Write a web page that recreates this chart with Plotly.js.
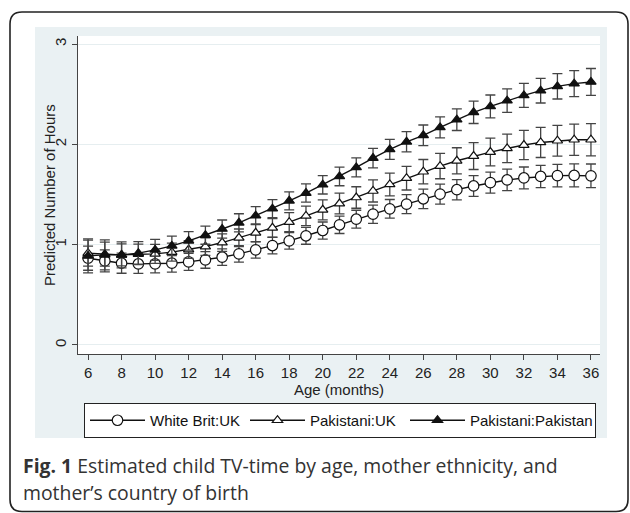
<!DOCTYPE html>
<html><head><meta charset="utf-8">
<script src="https://cdn.plot.ly/plotly-3.0.1.min.js"></script>
<style>html,body{margin:0;padding:0;background:#fff}#chart{width:630px;height:513px}</style>
</head><body><div id="chart"></div>
<script>
const ages = [6,7,8,9,10,11,12,13,14,15,16,17,18,19,20,21,22,23,24,25,26,27,28,29,30,31,32,33,34,35,36];
const seriesNames = ['White Brit:UK', 'Pakistani:UK', 'Pakistani:Pakistan'];
const whiteBritUK = [0.865,0.838,0.815,0.808,0.808,0.815,0.828,0.848,0.875,0.908,0.948,0.991,1.038,1.088,1.141,1.198,1.254,1.304,1.357,1.404,1.457,1.504,1.548,1.585,1.618,1.645,1.665,1.680,1.688,1.690,1.686];
const whiteBritUKErr = [0.12,0.11,0.10,0.095,0.09,0.088,0.085,0.083,0.082,0.082,0.082,0.082,0.083,0.084,0.085,0.087,0.089,0.091,0.093,0.095,0.097,0.099,0.101,0.103,0.105,0.107,0.109,0.111,0.113,0.115,0.118];
const pakistaniUK = [0.915,0.905,0.898,0.905,0.908,0.925,0.951,0.981,1.021,1.068,1.118,1.168,1.224,1.287,1.347,1.410,1.470,1.535,1.600,1.663,1.727,1.783,1.836,1.883,1.923,1.959,1.993,2.019,2.036,2.046,2.046];
const pakistaniUKErr = [0.13,0.12,0.11,0.10,0.095,0.09,0.088,0.087,0.087,0.088,0.09,0.092,0.095,0.098,0.10,0.103,0.107,0.11,0.114,0.118,0.122,0.126,0.13,0.134,0.138,0.142,0.146,0.15,0.153,0.156,0.16];
const pakistaniPakistan = [0.888,0.898,0.898,0.915,0.948,0.988,1.038,1.094,1.156,1.218,1.289,1.359,1.437,1.514,1.597,1.680,1.770,1.863,1.950,2.025,2.090,2.169,2.246,2.319,2.378,2.435,2.488,2.535,2.578,2.605,2.622];
const pakistaniPakistanErr = [0.17,0.15,0.13,0.115,0.105,0.097,0.092,0.09,0.09,0.09,0.09,0.09,0.09,0.091,0.092,0.093,0.095,0.097,0.099,0.101,0.103,0.105,0.108,0.111,0.114,0.117,0.12,0.123,0.126,0.13,0.134];
const xTicks = [6,8,10,12,14,16,18,20,22,24,26,28,30,32,34,36];
const yTicks = [0,1,2,3];
const xTitle = 'Age (months)';
const yTitle = 'Predicted Number of Hours';
const captionBold = 'Fig. 1';
const captionLine1 = ' Estimated child TV-time by age, mother ethnicity, and';
const captionLine2 = 'mother\u2019s country of birth';

const W = 630, H = 513, L = 78, R = 30, T = 36, B = 159;
const pw = W - L - R, ph = H - T - B;
const px = x => (x - L) / pw;
const py = y => (H - B - y) / ph;

const FONT = 'Liberation Sans, Arial, sans-serif';
const ERRC = '#444';

function mk(name, y, err, symbol, fill, size, lw) {
  const t = {
    type: 'scatter', mode: 'lines+markers', name: name, x: ages, y: y,
    line: {color: '#111', width: 1.4},
    marker: {symbol: symbol, size: size, color: fill, line: {color: '#111', width: 1.2}},
    error_y: {type: 'data', array: err, visible: true, color: ERRC, thickness: 1.3, width: 5}
  };
  if (lw) t.legendwidth = lw;
  return t;
}

const data = [
  mk(seriesNames[0], whiteBritUK, whiteBritUKErr, 'circle', '#fff', 10.5),
  mk(seriesNames[1], pakistaniUK, pakistaniUKErr, 'triangle-up', '#fff', 9),
  mk(seriesNames[2], pakistaniPakistan, pakistaniPakistanErr, 'triangle-up', '#111', 9, 120)
];

// rounded card outline
const cx0 = px(10), cx1 = px(628), cy0 = py(511.5), cy1 = py(12);
const rx = 12 / pw, ry = 12 / ph;
const cardPath = `M${cx0},${cy1 - ry} Q${cx0},${cy1} ${cx0 + rx},${cy1} L${cx1 - rx},${cy1} Q${cx1},${cy1} ${cx1},${cy1 - ry} L${cx1},${cy0 + ry} Q${cx1},${cy0} ${cx1 - rx},${cy0} L${cx0 + rx},${cy0} Q${cx0},${cy0} ${cx0},${cy0 + ry} Z`;

const layout = {
  width: W, height: H,
  margin: {l: L, r: R, t: T, b: B, pad: 0},
  paper_bgcolor: '#fff', plot_bgcolor: '#fff',
  font: {family: FONT, size: 15, color: '#222'},
  showlegend: true,
  xaxis: {
    range: [5.4, 36.54], tickvals: xTicks, ticks: 'outside', ticklen: 5, tickwidth: 1, tickcolor: '#444',
    showline: true, linecolor: '#444', linewidth: 1, showgrid: false, zeroline: false,
    tickfont: {size: 15, color: '#222'},
    title: {text: xTitle, font: {size: 15, color: '#222'}, standoff: 0}
  },
  yaxis: {
    range: [-0.09, 3.08], tickvals: yTicks, tickangle: -90, ticks: 'outside', ticklen: 5, tickwidth: 1, tickcolor: '#444',
    showline: true, linecolor: '#444', linewidth: 1, showgrid: true, gridcolor: '#e6eef0', gridwidth: 1, zeroline: false,
    tickfont: {size: 15, color: '#222'}
  },
  legend: {
    orientation: 'h', x: px(84), xanchor: 'left', y: py(403), yanchor: 'top',
    bordercolor: '#222', borderwidth: 1, bgcolor: '#fff',
    font: {size: 15, color: '#111', family: FONT}, itemwidth: 55, entrywidth: 90, traceorder: 'normal'
  },
  shapes: [
    {type: 'rect', xref: 'paper', yref: 'paper', x0: px(35), x1: px(607), y0: py(438), y1: py(27), fillcolor: '#eaf1f3', line: {width: 0}, layer: 'below'},
    {type: 'rect', xref: 'paper', yref: 'paper', x0: 0, x1: 1, y0: 0, y1: 1, fillcolor: '#fff', line: {width: 0}, layer: 'below'},
    {type: 'path', xref: 'paper', yref: 'paper', path: cardPath, line: {color: '#222', width: 1.6}, layer: 'below'}
  ],
  annotations: [
    {xref: 'paper', yref: 'paper', x: px(49), y: 0.5, xanchor: 'center', yanchor: 'middle', showarrow: false,
     textangle: -90, text: yTitle, font: {family: FONT, size: 15, color: '#222'}},
    {xref: 'paper', yref: 'paper', x: px(21), y: py(465), xanchor: 'left', yanchor: 'middle', showarrow: false,
     text: `<b>${captionBold}</b>${captionLine1}`, font: {family: 'Open Sans, Noto Sans, sans-serif', size: 19.4, color: '#333'}},
    {xref: 'paper', yref: 'paper', x: px(21), y: py(492), xanchor: 'left', yanchor: 'middle', showarrow: false,
     text: captionLine2, font: {family: 'Open Sans, Noto Sans, sans-serif', size: 19.4, color: '#333'}}
  ]
};

Plotly.newPlot('chart', data, layout, {displayModeBar: false, staticPlot: true});
</script>
</body></html>
